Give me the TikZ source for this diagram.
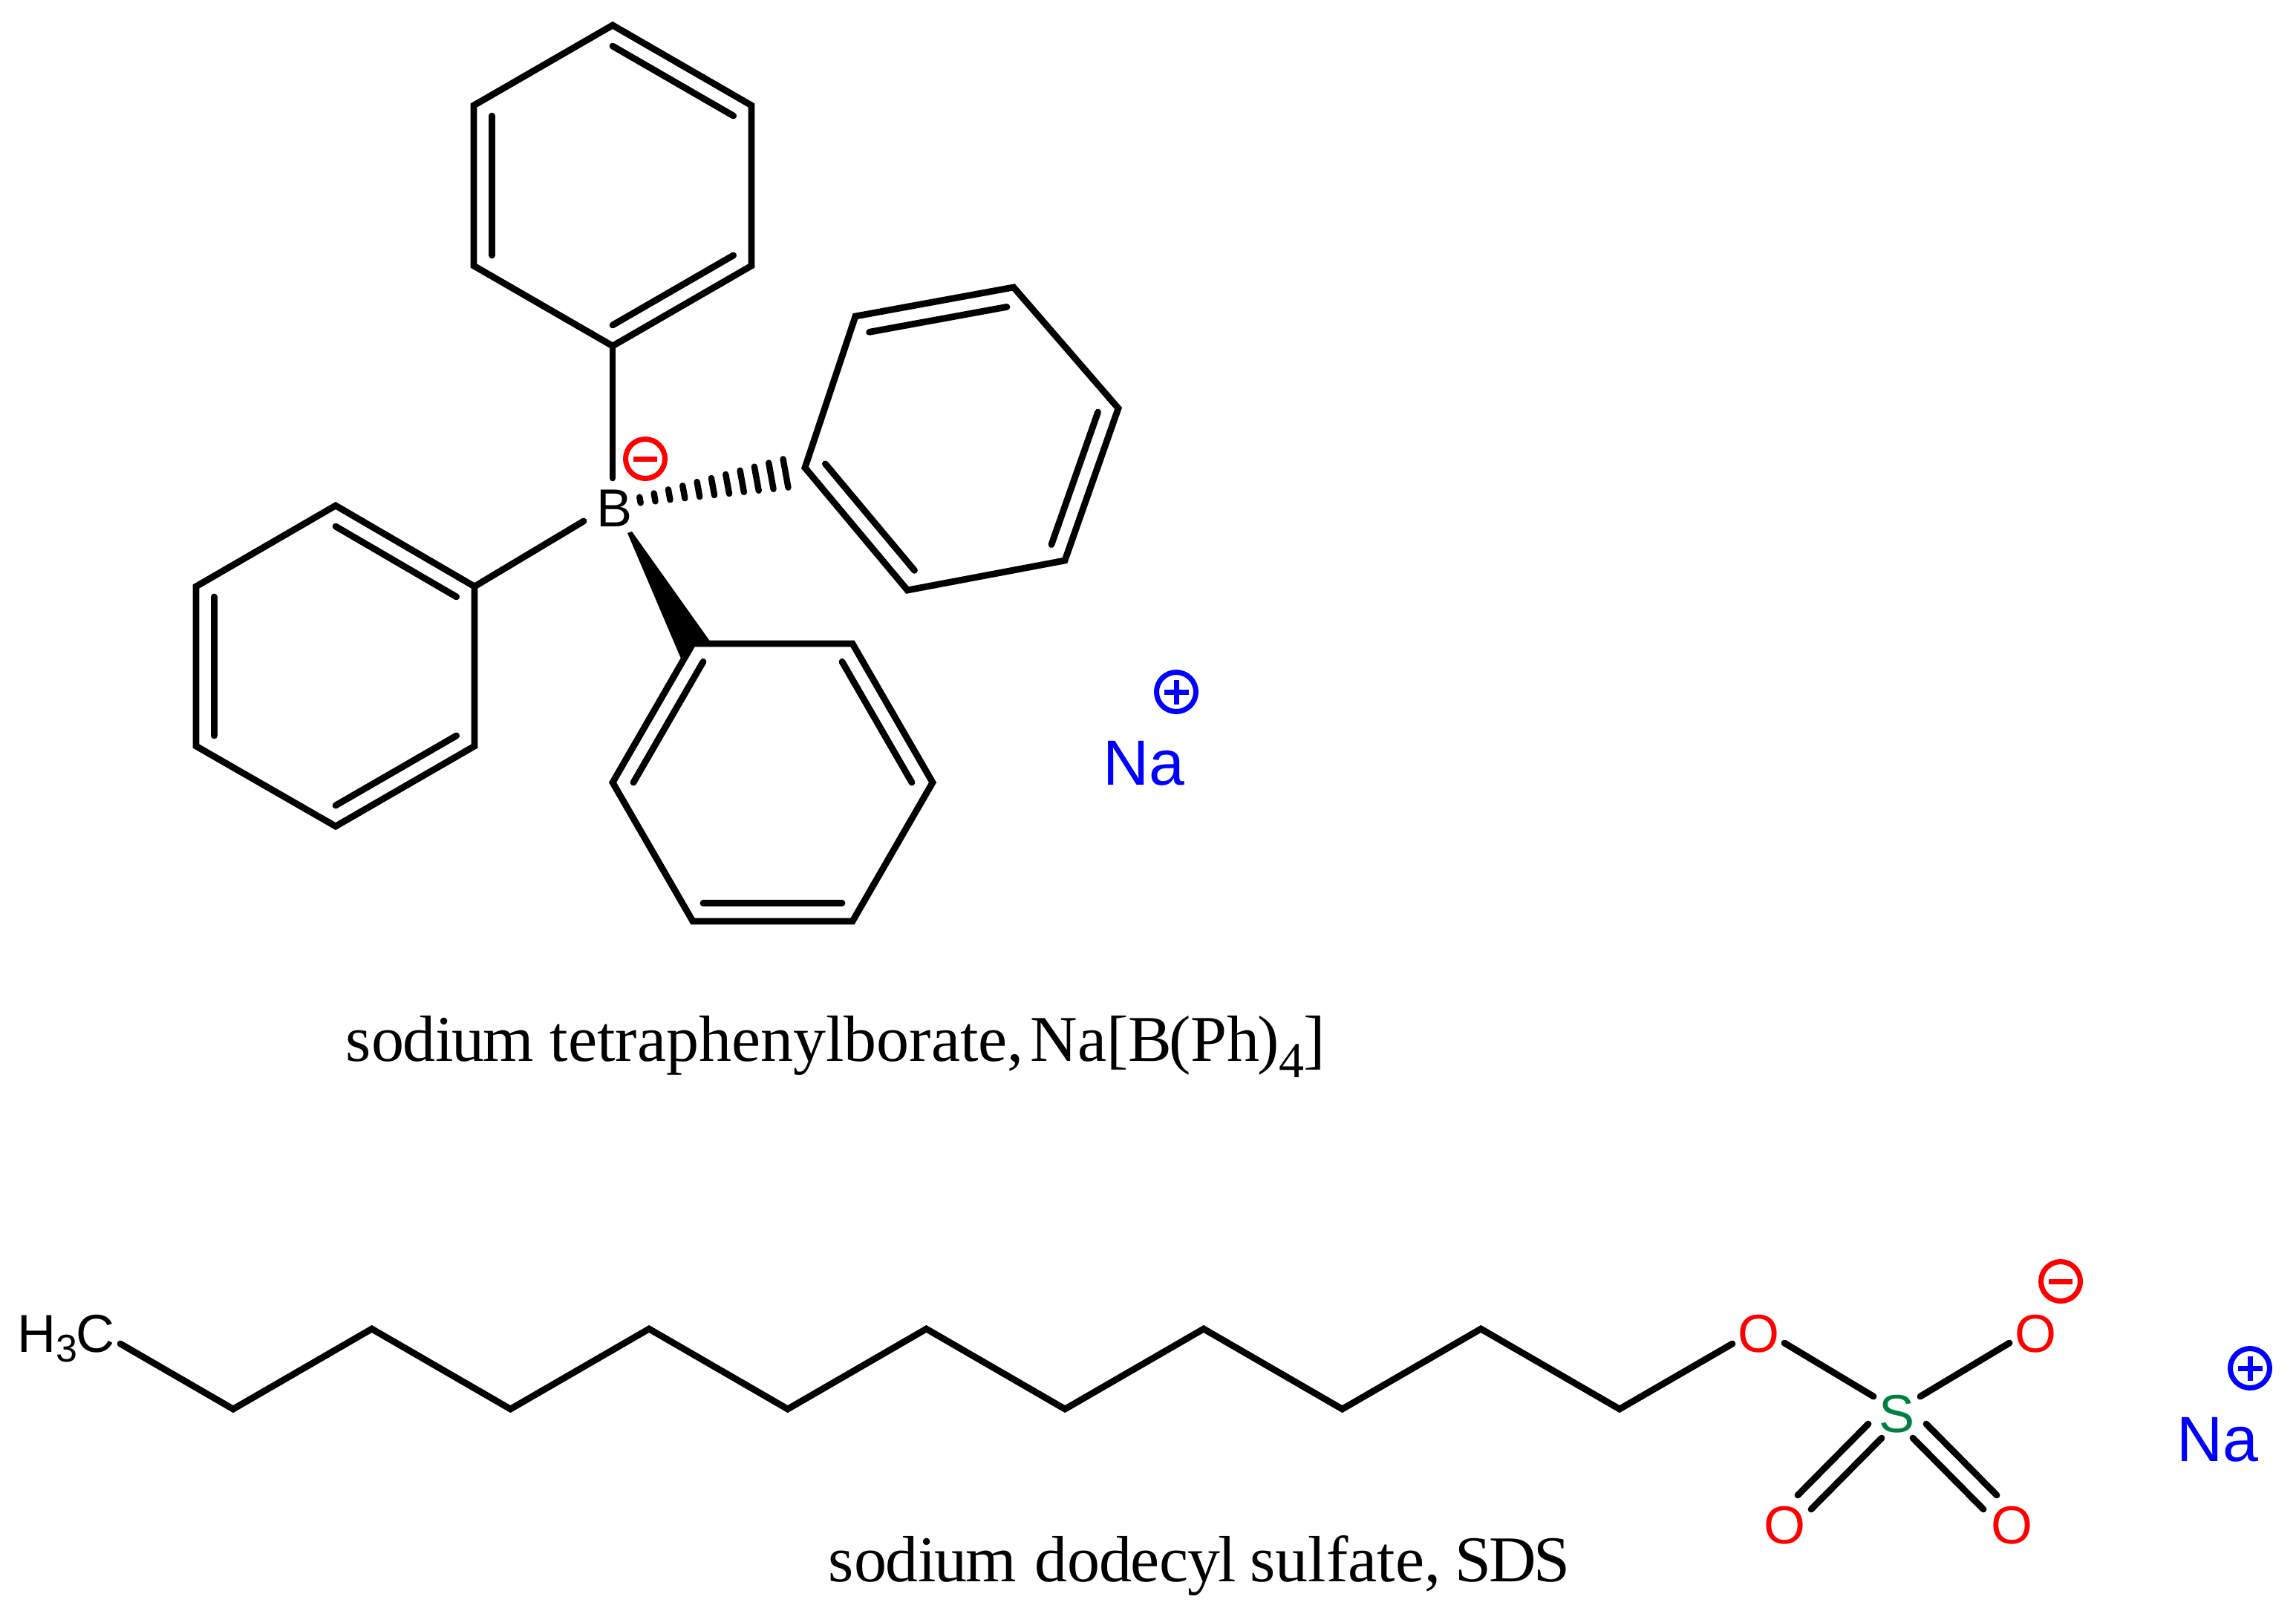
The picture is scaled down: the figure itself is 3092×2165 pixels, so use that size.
\documentclass[tikz,border=0pt]{standalone}
\usepackage{fontspec}
\setmainfont{Liberation Serif}
\newfontfamily\arialf{Liberation Sans}
\usetikzlibrary{calc}
\definecolor{sgreen}{HTML}{008040}
\tikzset{
  bond/.style={line width=2.2pt,line cap=round,line join=miter,black},
  hashbar/.style={line width=2.1pt,line cap=round,black},
  atom/.style={inner sep=0pt,anchor=base,font=\arialf\fontsize{18pt}{20pt}\selectfont},
  ion/.style={inner sep=0pt,anchor=base,text=blue,font=\arialf\fontsize{21.5pt}{24pt}\selectfont},
  caption/.style={inner sep=0pt,anchor=base west,font=\fontsize{22pt}{26pt}\selectfont},
  chargering/.style={circle,draw,line width=1.75pt,minimum size=13.25pt,inner sep=0pt},
  chargebar/.style={line width=1.75pt}
}
\newcommand{\innerbond}[3]{\draw[bond] ($(#1)!0.87!(#2)$) -- ($(#1)!0.87!(#3)$);}
\newcommand{\minuscharge}[2]{%
  \node[chargering,red] (#1) at (#2) {};
  \draw[chargebar,red] ($(#1)+(-16,0)$) -- ($(#1)+(16,0)$);}
\newcommand{\pluscharge}[2]{%
  \node[chargering,blue] (#1) at (#2) {};
  \draw[chargebar,blue] ($(#1)+(-16.5,0)$) -- ($(#1)+(16.5,0)$);
  \draw[chargebar,blue] ($(#1)+(0,-16.5)$) -- ($(#1)+(0,16.5)$);}
\newcommand{\narrowsodium}{so\kern-.5pt di\kern-.5pt u\kern-.5pt m}
\begin{document}
\begin{tikzpicture}[x=0.25pt,y=-0.25pt]
\useasboundingbox (0,0) rectangle (3092,2165);
% top ring
\coordinate (t1) at (825,34); \coordinate (t2) at (1012,142); \coordinate (t3) at (1012,358);
\coordinate (t4) at (825,466); \coordinate (t5) at (638,358); \coordinate (t6) at (638,142);
\coordinate (tc) at (825,250);
\draw[bond] (t1)--(t2)--(t3)--(t4)--(t5)--(t6)--cycle;
\innerbond{tc}{t1}{t2}\innerbond{tc}{t3}{t4}\innerbond{tc}{t5}{t6}
% right ring
\coordinate (r1) at (1084,630); \coordinate (r2) at (1152,426); \coordinate (r3) at (1365,387);
\coordinate (r4) at (1506,550); \coordinate (r5) at (1434,755); \coordinate (r6) at (1222,795);
\coordinate (rc) at (1295,590);
\draw[bond] (r1)--(r2)--(r3)--(r4)--(r5)--(r6)--cycle;
\innerbond{rc}{r2}{r3}\innerbond{rc}{r4}{r5}\innerbond{rc}{r6}{r1}
% bottom ring
\coordinate (b1) at (933,867); \coordinate (b2) at (1148,867); \coordinate (b3) at (1256,1054);
\coordinate (b4) at (1148,1241); \coordinate (b5) at (933,1241); \coordinate (b6) at (825,1054);
\coordinate (bc) at (1040.5,1054);
\draw[bond] (b1)--(b2)--(b3)--(b4)--(b5)--(b6)--cycle;
\innerbond{bc}{b2}{b3}\innerbond{bc}{b4}{b5}\innerbond{bc}{b6}{b1}
% left ring
\coordinate (l1) at (639,790); \coordinate (l2) at (639,1005); \coordinate (l3) at (452,1113);
\coordinate (l4) at (264,1005); \coordinate (l5) at (264,790); \coordinate (l6) at (452,681);
\coordinate (lc) at (452,897);
\draw[bond] (l1)--(l2)--(l3)--(l4)--(l5)--(l6)--cycle;
\innerbond{lc}{l6}{l1}\innerbond{lc}{l2}{l3}\innerbond{lc}{l4}{l5}
% boron
\node[atom] (B) at (827,709) {B};
\coordinate (Btop) at (825,644); \coordinate (Bleft) at (786,702);
\draw[bond] (t4) -- (Btop);
\draw[bond] (l1) -- (Bleft);
% wedge
\coordinate (w0) at (845,718); \coordinate (w0b) at (851,716);
\coordinate (w1) at (957,865); \coordinate (w2) at (917,887);
\fill[black] (w0) -- (w0b) -- (w1) -- (b1) -- (w2) -- cycle;
% hash
\foreach \i in {0,...,10}{
  \pgfmathsetmacro{\cx}{862+19.6*\i}
  \pgfmathsetmacro{\cy}{673.5-3.6*\i}
  \pgfmathsetmacro{\hl}{4+1.55*\i}
  \coordinate (ha\i) at (\cx-0.178*\hl,\cy-0.984*\hl);
  \coordinate (hb\i) at (\cx+0.178*\hl,\cy+0.984*\hl);
  \draw[hashbar] (ha\i) -- (hb\i);
}
\minuscharge{Bm}{869,618}
% Na top
\node[ion] (NaA) at (1540,1057) {Na};
\pluscharge{NaAp}{1584,932}
% caption 1
\node[caption] (capA) at (465,1429) {\narrowsodium\ tetraphenylborate,\kern2.25pt Na[B\kern-1pt(Ph\kern-.75pt)\raisebox{-5.5pt}{\fontsize{17pt}{18pt}\selectfont 4}\kern-.4pt]};
% chain
\coordinate (c0) at (162,1810);
\coordinate (c1) at (314,1898); \coordinate (c2) at (500.7,1790); \coordinate (c3) at (687.4,1898);
\coordinate (c4) at (874.1,1790); \coordinate (c5) at (1060.8,1898); \coordinate (c6) at (1247.5,1790);
\coordinate (c7) at (1434.2,1898); \coordinate (c8) at (1620.9,1790); \coordinate (c9) at (1807.6,1898);
\coordinate (c10) at (1994.3,1790); \coordinate (c11) at (2181,1898); \coordinate (c12) at (2333,1810);
\draw[bond] (c0)--(c1)--(c2)--(c3)--(c4)--(c5)--(c6)--(c7)--(c8)--(c9)--(c10)--(c11)--(c12);
\node[atom,anchor=base west] (Me) at (23,1821) {H\raisebox{-3.25pt}{\fontsize{13pt}{14pt}\selectfont 3}\kern-.5pt C};
% sulfate
\node[atom,text=red] (O1) at (2368,1821) {O};
\node[atom,text=red] (O2) at (2741,1821) {O};
\node[atom,text=red] (O3) at (2403,2079) {O};
\node[atom,text=red] (O4) at (2709,2079) {O};
\node[atom,text=sgreen] (S) at (2554,1929) {S};
\coordinate (a1) at (2403,1809); \coordinate (a2) at (2523,1881);
\coordinate (a3) at (2706,1809); \coordinate (a4) at (2586,1881);
\draw[bond] (a1) -- (a2);
\draw[bond] (a3) -- (a4);
\coordinate (d1) at (2516,1918); \coordinate (d2) at (2421,2014);
\coordinate (d3) at (2534,1937); \coordinate (d4) at (2439,2033);
\coordinate (d5) at (2594,1918); \coordinate (d6) at (2689,2014);
\coordinate (d7) at (2576,1937); \coordinate (d8) at (2671,2033);
\draw[bond] (d1) -- (d2);
\draw[bond] (d3) -- (d4);
\draw[bond] (d5) -- (d6);
\draw[bond] (d7) -- (d8);
\minuscharge{Om}{2775,1726}
\node[ion] (NaB) at (2986,1968) {Na};
\pluscharge{NaBp}{3030,1843}
% caption 2
\node[caption] (capB) at (1115,2130) {\narrowsodium\kern.75pt\ d\kern-.25pt o\kern-.25pt d\kern-.25pt e\kern-.25pt c\kern-.25pt y\kern-.75pt l\kern-.75pt\ sulfate,\kern-.75pt\ S\kern-.75pt D\kern-.75pt S};
\end{tikzpicture}
\end{document}
